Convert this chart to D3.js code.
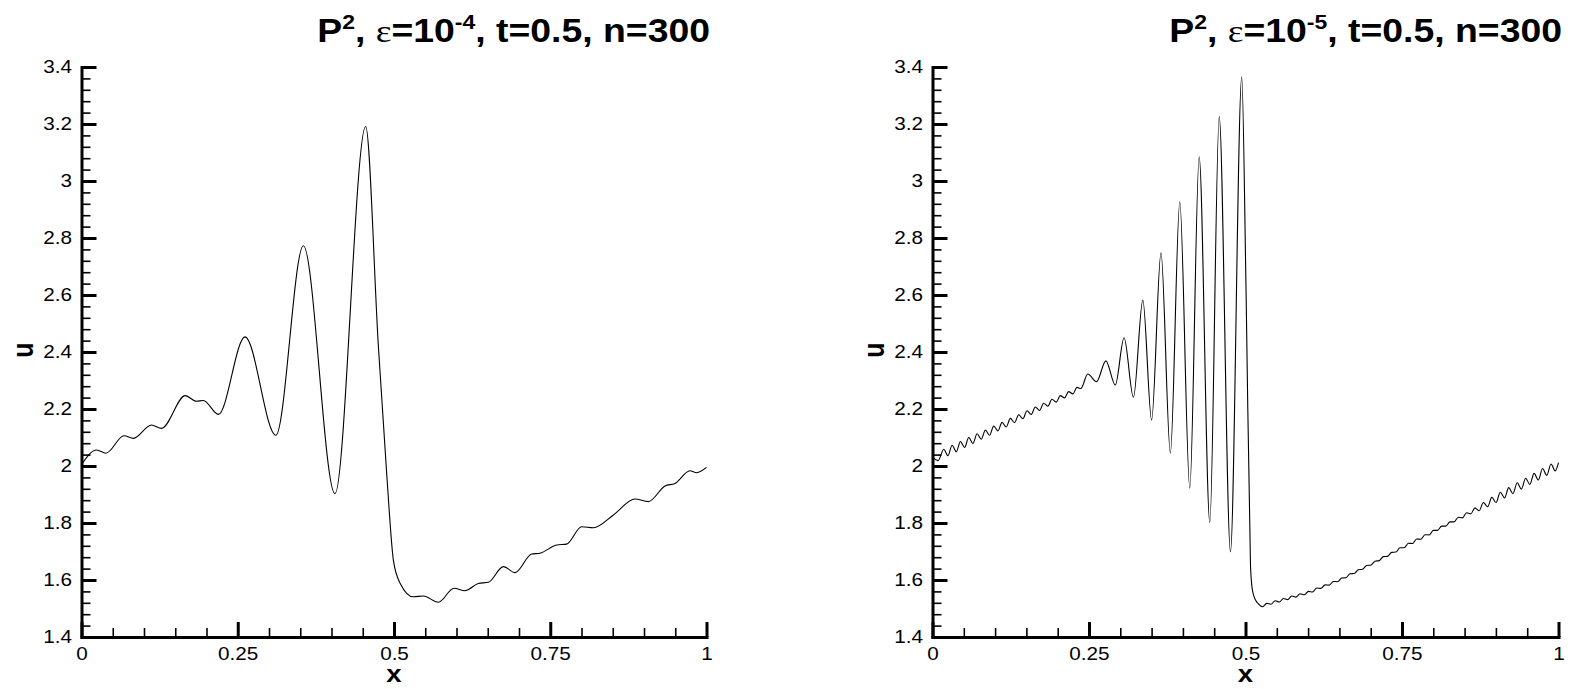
<!DOCTYPE html>
<html>
<head>
<meta charset="utf-8">
<script src="https://cdn.jsdelivr.net/npm/d3@7"></script>
<style>
  body { margin: 0; background: #fff; }
  svg { display: block; }
  text { font-family: "Liberation Sans", Arial, sans-serif; fill: #000; }
</style>
</head>
<body>
<svg id="chart" width="1570" height="689"></svg>
<script>
// ---- data: solution u(x) at t = 0.5 for two values of epsilon ----
const leftX = [0, 0.024, 0.039, 0.068, 0.083, 0.112, 0.128, 0.166, 0.184, 0.195, 0.219,
  0.2616, 0.311, 0.355, 0.4056, 0.4547, 0.475, 0.489, 0.499, 0.51, 0.531, 0.547, 0.571,
  0.596, 0.6136, 0.635, 0.651, 0.675, 0.6936, 0.7203, 0.7336, 0.7603, 0.776, 0.8003,
  0.819, 0.851, 0.8856, 0.9069, 0.9336, 0.9496, 0.9736, 0.9843, 1.0];
const leftU = [2.005, 2.056, 2.045, 2.106, 2.097, 2.144, 2.132, 2.247, 2.227, 2.230, 2.181,
  2.453, 2.108, 2.773, 1.903, 3.191, 2.42, 1.95, 1.67, 1.588, 1.541, 1.544, 1.522,
  1.571, 1.5625, 1.588, 1.592, 1.647, 1.626, 1.691, 1.694, 1.723, 1.726, 1.787,
  1.7835, 1.828, 1.884, 1.875, 1.930, 1.939, 1.9835, 1.9765, 1.995];

const rightX = [0, 0.009, 0.018, 0.0247, 0.0313, 0.038, 0.0446, 0.0513, 0.0579, 0.0646,
  0.0712, 0.0779, 0.0845, 0.0912, 0.0978, 0.1045, 0.1111, 0.1178, 0.1244, 0.1311,
  0.1377, 0.1444, 0.151, 0.1577, 0.1643, 0.171, 0.1776, 0.1843, 0.1909, 0.1976,
  0.2042, 0.2109, 0.2175, 0.2242, 0.2308, 0.237,
  0.248, 0.262, 0.277, 0.292, 0.306, 0.321, 0.336, 0.350, 0.365, 0.380, 0.395, 0.411,
  0.426, 0.443, 0.458, 0.476, 0.494, 0.501, 0.508, 0.511, 0.516, 0.521, 0.527,
  0.534, 0.5407, 0.5473, 0.554, 0.5606, 0.5673, 0.5739, 0.5806, 0.5872, 0.5939,
  0.6005, 0.6072, 0.6138, 0.6205, 0.6271, 0.6338, 0.6404, 0.6471, 0.6537, 0.6604,
  0.667, 0.6737, 0.6803, 0.687, 0.6936, 0.7003, 0.7069, 0.7136, 0.7202, 0.7269,
  0.7335, 0.7402, 0.7468, 0.7535, 0.7601, 0.7668, 0.7734, 0.7801, 0.7867, 0.7934,
  0.8, 0.8067, 0.8133, 0.82, 0.8266, 0.8333, 0.8399, 0.8466, 0.8532, 0.8599,
  0.8665, 0.87325, 0.880, 0.88675, 0.8935, 0.90025, 0.907, 0.91375, 0.9205, 0.92725,
  0.934, 0.94075, 0.9475, 0.95425, 0.961, 0.96775, 0.9745, 0.98125, 0.988, 0.99475, 1.0];
const rightU = [2.032, 2.019, 2.059, 2.036, 2.073, 2.050, 2.086, 2.065, 2.100, 2.079,
  2.113, 2.094, 2.126, 2.108, 2.140, 2.123, 2.153, 2.137, 2.167, 2.152,
  2.180, 2.166, 2.194, 2.181, 2.207, 2.195, 2.220, 2.210, 2.234, 2.224,
  2.247, 2.239, 2.261, 2.253, 2.276, 2.272,
  2.323, 2.296, 2.369, 2.284, 2.450, 2.241, 2.582, 2.161, 2.748, 2.045, 2.927, 1.922,
  3.085, 1.801, 3.226, 1.699, 3.366, 2.60, 1.65, 1.565, 1.53, 1.515, 1.506,
  1.518, 1.515, 1.527, 1.523, 1.535, 1.531, 1.544, 1.540, 1.552, 1.548,
  1.560, 1.558, 1.572, 1.5705, 1.583, 1.582, 1.595, 1.594, 1.607, 1.608,
  1.622, 1.623, 1.636, 1.638, 1.651, 1.652, 1.666, 1.668, 1.682, 1.683,
  1.697, 1.698, 1.713, 1.713, 1.729, 1.728, 1.744, 1.743, 1.759, 1.758,
  1.774, 1.774, 1.789, 1.789, 1.804, 1.804, 1.820, 1.818, 1.836, 1.832,
  1.853, 1.843, 1.872, 1.857, 1.890, 1.872, 1.908, 1.888, 1.924, 1.903,
  1.941, 1.919, 1.957, 1.935, 1.974, 1.951, 1.991, 1.967, 2.007, 1.983, 2.012];

// axis ticks
const xTicks = [0, 0.25, 0.5, 0.75, 1];
const xTickLabels = ["0", "0.25", "0.5", "0.75", "1"];
const yTicks = [1.4, 1.6, 1.8, 2, 2.2, 2.4, 2.6, 2.8, 3, 3.2, 3.4];
const yTickLabels = ["1.4", "1.6", "1.8", "2", "2.2", "2.4", "2.6", "2.8", "3", "3.2", "3.4"];
const epsExponents = ["-4", "-5"];

// ---- drawing ----
const svg = d3.select("#chart");
const STRETCH = 1.15;   // glyphs are drawn slightly wide
const yTop = 67, yBottom = 637;

const panels = [
  { xs: leftX, us: leftU, left: 81.5, right: 706.5, exp: epsExponents[0], titleEnd: 710 },
  { xs: rightX, us: rightU, left: 932.5, right: 1558.5, exp: epsExponents[1], titleEnd: 1562 }
];

panels.forEach(p => {
  const x = d3.scaleLinear().domain([0, 1]).range([p.left, p.right]);
  const y = d3.scaleLinear().domain([1.4, 3.4]).range([yBottom, yTop]);
  const g = svg.append("g");

  const xMinor = d3.range(0, 1.0001, 0.05).filter(v => !xTicks.some(t => Math.abs(t - v) < 1e-9));
  const yMinor = d3.range(1.4, 3.4001, 0.04).filter(v => !yTicks.some(t => Math.abs(t - v) < 1e-9));

  // minor ticks
  g.append("g").attr("transform", `translate(0,${yBottom})`)
    .call(d3.axisBottom(x).tickValues(xMinor).tickSize(-9).tickSizeOuter(0).tickFormat(""))
    .call(a => a.select(".domain").remove())
    .selectAll("line").attr("stroke", "#000").attr("stroke-width", 1.6);
  g.append("g").attr("transform", `translate(${p.left},0)`)
    .call(d3.axisLeft(y).tickValues(yMinor).tickSize(-9).tickSizeOuter(0).tickFormat(""))
    .call(a => a.select(".domain").remove())
    .selectAll("line").attr("stroke", "#000").attr("stroke-width", 1.6);

  // major ticks, axis lines and labels
  const gx = g.append("g").attr("transform", `translate(0,${yBottom})`)
    .call(d3.axisBottom(x).tickValues(xTicks).tickSize(-15).tickSizeOuter(0)
      .tickPadding(10).tickFormat((d, i) => xTickLabels[i]));
  const gy = g.append("g").attr("transform", `translate(${p.left},0)`)
    .call(d3.axisLeft(y).tickValues(yTicks).tickSize(-15).tickSizeOuter(0)
      .tickPadding(10).tickFormat((d, i) => yTickLabels[i]));

  [gx, gy].forEach(a => {
    a.select(".domain").attr("stroke", "#000").attr("stroke-width", 3).attr("stroke-linecap", "square");
    a.selectAll(".tick line").attr("stroke", "#000").attr("stroke-width", 3);
    a.selectAll("text").attr("font-size", 18).attr("font-family", "Liberation Sans, Arial, sans-serif").attr("fill", "#000");
  });
  gx.selectAll("text").attr("transform", `scale(${STRETCH},1)`);
  gy.selectAll("text").attr("x", 0).attr("transform", `translate(-9.5,0) scale(${STRETCH},1)`);

  // curve
  const line = d3.line().x((d, i) => x(p.xs[i])).y(d => y(d)).curve(d3.curveMonotoneX);
  g.append("path").datum(p.us)
    .attr("d", line)
    .attr("fill", "none").attr("stroke", "#000").attr("stroke-width", 1.1);

  // axis titles
  g.append("text")
    .attr("transform", `translate(${(p.left + p.right) / 2},682) scale(${STRETCH},1)`)
    .attr("text-anchor", "middle").attr("font-weight", "bold").attr("font-size", 24)
    .text("x");
  g.append("text")
    .attr("transform", `translate(${p.left - 49},350) rotate(-90) scale(1,${STRETCH})`)
    .attr("text-anchor", "middle").attr("font-weight", "bold").attr("font-size", 25)
    .text("u");

  // title
  const t = g.append("text")
    .attr("transform", `translate(${p.titleEnd},42) scale(${STRETCH},1)`)
    .attr("text-anchor", "end").attr("font-weight", "bold").attr("font-size", 32.5);
  t.append("tspan").text("P");
  t.append("tspan").attr("font-size", 20).attr("dy", -13).text("2");
  t.append("tspan").attr("dy", 13).text(", ");
  t.append("tspan").attr("font-family", "Liberation Serif, serif").attr("font-weight", "normal").text("\u03b5");
  t.append("tspan").text("=10");
  t.append("tspan").attr("font-size", 20).attr("dy", -13).text(p.exp);
  t.append("tspan").attr("dy", 13).text(", t=0.5, n=300");
});
</script>
</body>
</html>
